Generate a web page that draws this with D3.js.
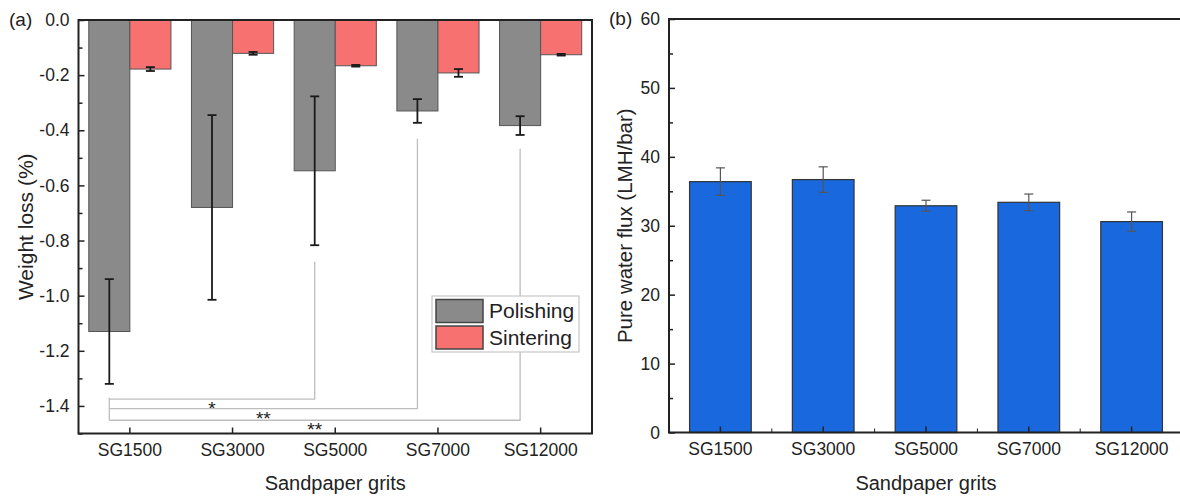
<!DOCTYPE html>
<html>
<head>
<meta charset="utf-8">
<script src="https://cdn.jsdelivr.net/npm/d3@7"></script>
<style>
  body { margin: 0; background: #fff; }
  text { font-family: "Liberation Sans", Arial, sans-serif; fill: #222; }
</style>
</head>
<body>
<svg id="chart" width="1180" height="497"></svg>
<script>
// categories + values
var grits = ["SG1500", "SG3000", "SG5000", "SG7000", "SG12000"];
var series = ["Polishing", "Sintering"];
var polishing = [-1.13, -0.68, -0.547, -0.33, -0.383];
var polishingErr = [0.19, 0.335, 0.27, 0.043, 0.034];
var sintering = [-0.178, -0.121, -0.166, -0.192, -0.126];
var sinteringErr = [0.007, 0.005, 0.003, 0.014, 0.003];
var flux = [36.4, 36.7, 32.9, 33.4, 30.6];
var fluxErr = [2.0, 1.85, 0.8, 1.2, 1.4];
var ticksA = [0, -0.2, -0.4, -0.6, -0.8, -1.0, -1.2, -1.4];
var ticksB = [0, 10, 20, 30, 40, 50, 60];
// significance brackets: [from, to, line level, top of the right leg, label]
var brackets = [
    ["SG1500", "SG5000", -1.375, -0.877, "*"],
    ["SG1500", "SG7000", -1.41, -0.431, "**"],
    ["SG1500", "SG12000", -1.452, -0.467, "**"]
];

var colors = { Polishing: "#8a8a8a", Sintering: "#f77171" };

var svg = d3.select("#chart");

/* ---------------- panel (a) ---------------- */
var a = { left: 78.5, right: 592, top: 20, bottom: 433.5 };

var xa = d3.scaleBand()
    .domain(grits)
    .range([a.left, a.right])
    .paddingInner(0.2)
    .paddingOuter(0.1);

var xs = d3.scaleBand()
    .domain(series)
    .range([0, xa.bandwidth()]);

var ya = d3.scaleLinear()
    .domain([-1.5, 0])
    .range([a.bottom, a.top]);

var g1 = svg.append("g");

var rowsA = [];
grits.forEach(function(c, i) {
    rowsA.push({ cat: c, s: "Polishing", v: polishing[i], e: polishingErr[i] });
    rowsA.push({ cat: c, s: "Sintering", v: sintering[i], e: sinteringErr[i] });
});

g1.selectAll("rect.bar")
    .data(rowsA)
    .enter().append("rect")
    .attr("class", "bar")
    .attr("x", function(d) { return xa(d.cat) + xs(d.s); })
    .attr("width", xs.bandwidth())
    .attr("y", ya(0))
    .attr("height", function(d) { return ya(d.v) - ya(0); })
    .attr("fill", function(d) { return colors[d.s]; })
    .attr("stroke", "#555")
    .attr("stroke-width", 1);

// error bars
var errA = g1.selectAll("g.err")
    .data(rowsA)
    .enter().append("g")
    .attr("class", "err")
    .attr("stroke", "#1a1a1a")
    .attr("stroke-width", 1.8);

function cx(d) { return xa(d.cat) + xs(d.s) + xs.bandwidth() / 2; }

errA.append("line")
    .attr("x1", cx).attr("x2", cx)
    .attr("y1", function(d) { return ya(d.v + d.e); })
    .attr("y2", function(d) { return ya(d.v - d.e); });
errA.append("line")
    .attr("x1", function(d) { return cx(d) - 4.5; })
    .attr("x2", function(d) { return cx(d) + 4.5; })
    .attr("y1", function(d) { return ya(d.v + d.e); })
    .attr("y2", function(d) { return ya(d.v + d.e); });
errA.append("line")
    .attr("x1", function(d) { return cx(d) - 4.5; })
    .attr("x2", function(d) { return cx(d) + 4.5; })
    .attr("y1", function(d) { return ya(d.v - d.e); })
    .attr("y2", function(d) { return ya(d.v - d.e); });

// brackets
function px(cat) { return xa(cat) + xs("Polishing") + xs.bandwidth() / 2; }

var br = g1.selectAll("g.br")
    .data(brackets)
    .enter().append("g")
    .attr("class", "br");

br.append("path")
    .attr("d", function(d) {
        return "M" + px(d[0]) + "," + ya(d[2]) + "H" + px(d[1]) + "V" + ya(d[3]);
    })
    .attr("fill", "none")
    .attr("stroke", "#bdbdbd")
    .attr("stroke-width", 1.3);

g1.append("line")
    .attr("x1", px("SG1500")).attr("x2", px("SG1500"))
    .attr("y1", ya(-1.37)).attr("y2", ya(brackets[2][2]))
    .attr("stroke", "#bdbdbd")
    .attr("stroke-width", 1.3);

br.append("text")
    .attr("x", function(d) { return (px(d[0]) + px(d[1])) / 2; })
    .attr("y", function(d) { return ya(d[2]) + 16; })
    .attr("text-anchor", "middle")
    .style("font-size", "19px")
    .text(function(d) { return d[4]; });

// axes
var yAxisA = d3.axisLeft(ya)
    .tickValues(ticksA)
    .tickSize(-6)
    .tickPadding(9)
    .tickFormat(function(d) { return d.toFixed(1); });

var yMinorA = d3.axisLeft(ya)
    .tickValues(ticksA.map(function(t) { return t - 0.1; }))
    .tickSize(-4)
    .tickFormat("");

var xAxisA = d3.axisBottom(xa)
    .tickSize(-6)
    .tickPadding(10);

g1.append("g").attr("transform", "translate(" + a.left + ",0)").call(yMinorA);
g1.append("g").attr("transform", "translate(" + a.left + ",0)").call(yAxisA);
g1.append("g").attr("transform", "translate(0," + a.bottom + ")").call(xAxisA);

g1.append("rect")
    .attr("x", a.left).attr("y", a.top)
    .attr("width", a.right - a.left).attr("height", a.bottom - a.top)
    .attr("fill", "none")
    .attr("stroke", "#222")
    .attr("stroke-width", 2);

// legend
var leg = g1.append("g").attr("transform", "translate(432,296)");
leg.append("rect")
    .attr("width", 147).attr("height", 56)
    .attr("fill", "#fff")
    .attr("stroke", "#bbb");
leg.selectAll("rect.sw")
    .data(series)
    .enter().append("rect")
    .attr("class", "sw")
    .attr("x", 4)
    .attr("y", function(d, i) { return 3.5 + i * 26.5; })
    .attr("width", 47).attr("height", 23)
    .attr("fill", function(d) { return colors[d]; })
    .attr("stroke", "#444")
    .attr("stroke-width", 1.5);
leg.selectAll("text")
    .data(series)
    .enter().append("text")
    .attr("x", 57)
    .attr("y", function(d, i) { return 22 + i * 27; })
    .style("font-size", "21px")
    .text(function(d) { return d; });

/* ---------------- panel (b) ---------------- */
var b = { left: 669, right: 1183, top: 19, bottom: 432.5 };

var xb = d3.scaleBand()
    .domain(grits)
    .range([b.left, b.right])
    .paddingInner(0.4)
    .paddingOuter(0.2);

var yb = d3.scaleLinear()
    .domain([0, 60])
    .range([b.bottom, b.top]);

var g2 = svg.append("g");

var rowsB = grits.map(function(c, i) { return { cat: c, v: flux[i], e: fluxErr[i] }; });

g2.selectAll("rect.bar")
    .data(rowsB)
    .enter().append("rect")
    .attr("class", "bar")
    .attr("x", function(d) { return xb(d.cat); })
    .attr("width", xb.bandwidth())
    .attr("y", function(d) { return yb(d.v); })
    .attr("height", function(d) { return yb(0) - yb(d.v); })
    .attr("fill", "#1968de")
    .attr("stroke", "#333")
    .attr("stroke-width", 1.2);

var errB = g2.selectAll("g.err")
    .data(rowsB)
    .enter().append("g")
    .attr("class", "err")
    .attr("stroke", "#555")
    .attr("stroke-width", 1.2);

function bx(d) { return xb(d.cat) + xb.bandwidth() / 2; }

errB.append("line")
    .attr("x1", bx).attr("x2", bx)
    .attr("y1", function(d) { return yb(d.v + d.e); })
    .attr("y2", function(d) { return yb(d.v - d.e); });
errB.append("line")
    .attr("x1", function(d) { return bx(d) - 4.5; })
    .attr("x2", function(d) { return bx(d) + 4.5; })
    .attr("y1", function(d) { return yb(d.v + d.e); })
    .attr("y2", function(d) { return yb(d.v + d.e); });
errB.append("line")
    .attr("x1", function(d) { return bx(d) - 4.5; })
    .attr("x2", function(d) { return bx(d) + 4.5; })
    .attr("y1", function(d) { return yb(d.v - d.e); })
    .attr("y2", function(d) { return yb(d.v - d.e); });

var yAxisB = d3.axisLeft(yb)
    .tickValues(ticksB)
    .tickSize(-6)
    .tickPadding(9)
    .tickFormat(d3.format("d"));

var yMinorB = d3.axisLeft(yb)
    .tickValues(ticksB.slice(1).map(function(t) { return t - 5; }))
    .tickSize(-4)
    .tickFormat("");

var xAxisB = d3.axisBottom(xb)
    .tickSize(-6)
    .tickPadding(10);

// minor ticks between categories
var step = xb.step();
g2.append("g").selectAll("line")
    .data(grits.slice(1))
    .enter().append("line")
    .attr("x1", function(d) { return xb(d) + xb.bandwidth() / 2 - step / 2; })
    .attr("x2", function(d) { return xb(d) + xb.bandwidth() / 2 - step / 2; })
    .attr("y1", b.bottom).attr("y2", b.bottom - 4)
    .attr("stroke", "#222");

g2.append("g").attr("transform", "translate(" + b.left + ",0)").call(yMinorB);
g2.append("g").attr("transform", "translate(" + b.left + ",0)").call(yAxisB);
g2.append("g").attr("transform", "translate(0," + b.bottom + ")").call(xAxisB);

g2.append("rect")
    .attr("x", b.left).attr("y", b.top)
    .attr("width", b.right - b.left).attr("height", b.bottom - b.top)
    .attr("fill", "none")
    .attr("stroke", "#222")
    .attr("stroke-width", 2);

/* ---------------- shared styling & titles ---------------- */
svg.selectAll(".domain").remove();
svg.selectAll(".tick line").attr("stroke", "#222").attr("stroke-width", 1.5);
svg.selectAll(".tick text")
    .style("font-size", "17.5px")
    .style("font-family", "'Liberation Sans', Arial, sans-serif")
    .attr("fill", "#222");

svg.append("text")
    .attr("x", (a.left + a.right) / 2).attr("y", 490)
    .attr("text-anchor", "middle")
    .style("font-size", "20px")
    .text("Sandpaper grits");
svg.append("text")
    .attr("x", (b.left + b.right) / 2).attr("y", 490)
    .attr("text-anchor", "middle")
    .style("font-size", "20px")
    .text("Sandpaper grits");

svg.append("text")
    .attr("transform", "translate(33," + (a.top + a.bottom) / 2 + ") rotate(-90)")
    .attr("text-anchor", "middle")
    .style("font-size", "21px")
    .text("Weight loss (%)");
svg.append("text")
    .attr("transform", "translate(632," + (b.top + b.bottom) / 2 + ") rotate(-90)")
    .attr("text-anchor", "middle")
    .style("font-size", "20.5px")
    .text("Pure water flux (LMH/bar)");

svg.append("text").attr("x", 9).attr("y", 26).style("font-size", "19px").text("(a)");
svg.append("text").attr("x", 609).attr("y", 25).style("font-size", "19px").text("(b)");
</script>
</body>
</html>
